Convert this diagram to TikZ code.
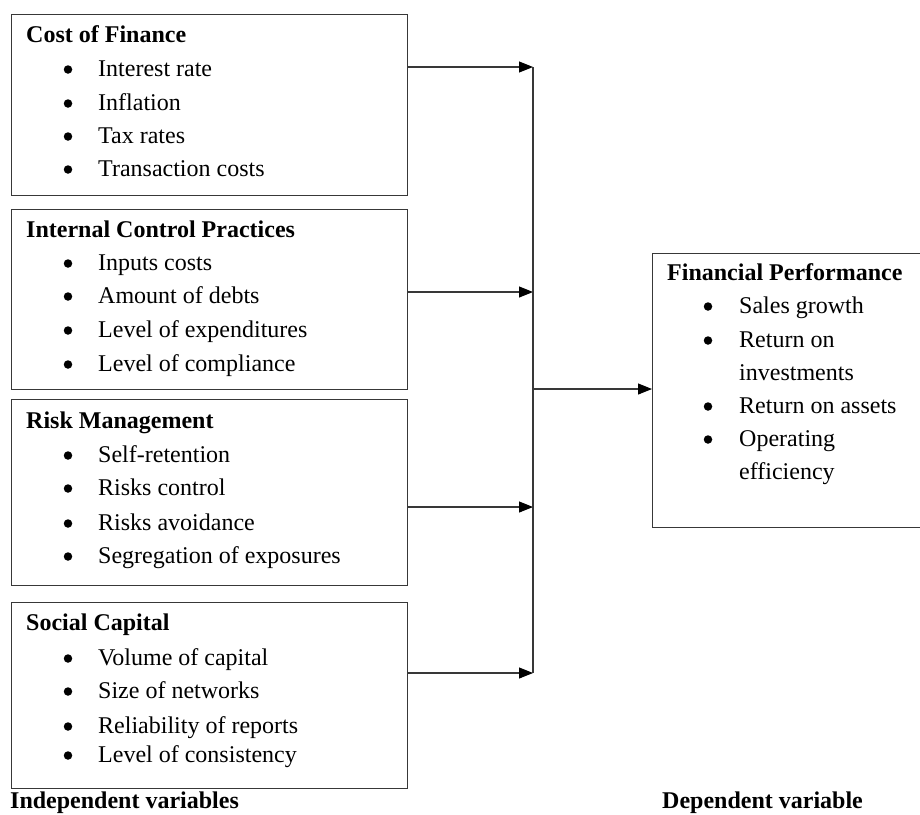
\documentclass[tikz,border=0pt]{standalone}
\usepackage{fontspec}
\setmainfont{Liberation Serif}
\usetikzlibrary{arrows.meta}

\begin{document}
\begin{tikzpicture}[x=1pt, y=-1pt,
  every node/.append style={font=\fontsize{24}{33}\selectfont},
  linecol/.style={draw=black!78, line width=1.1pt},
  box/.style={linecol, rectangle, inner sep=0pt, anchor=north west},
  title/.style={anchor=base west, inner sep=0pt, font=\fontsize{24}{33}\selectfont\bfseries},
  item/.style={anchor=base west, inner sep=0pt},
  bul/.style={circle, fill=black, inner sep=0pt, minimum size=8.5pt},
  link/.style={linecol, -{Triangle[length=14pt, width=11pt, color=black]}}
]
\clip (0,0) rectangle (920,814);

% independent variable boxes
\node[box, minimum width=396pt, minimum height=181pt] (cof) at (11,14) {};
\node[box, minimum width=396pt, minimum height=180pt] (icp) at (11,209) {};
\node[box, minimum width=396pt, minimum height=186pt] (rm)  at (11,399) {};
\node[box, minimum width=396pt, minimum height=186pt] (sc)  at (11,602) {};

% dependent variable box (runs past the right edge)
\node[box, minimum width=290pt, minimum height=274pt] (fp) at (652,253) {};

% box contents: title, then bullet and text of each item
\node[title] (cof-t) at (26,42) {Cost of Finance};
\foreach \y/\t [count=\i] in {76/Interest rate, 110/Inflation, 143/Tax rates, 176/Transaction costs} {
  \node[bul] (cof-b\i) at (68,\y-6.5) {};
  \node[item] (cof-\i) at (98,\y) {\t};
}

\node[title] (icp-t) at (26,237) {Internal Control Practices};
\foreach \y/\t [count=\i] in {270/Inputs costs, 303/Amount of debts, 337/Level of expenditures, 371/Level of compliance} {
  \node[bul] (icp-b\i) at (68,\y-6.5) {};
  \node[item] (icp-\i) at (98,\y) {\t};
}

\node[title] (rm-t) at (26,428) {Risk Management};
\foreach \y/\t [count=\i] in {462/Self-retention, 495/Risks control, 530/Risks avoidance, 563/Segregation of exposures} {
  \node[bul] (rm-b\i) at (68,\y-6.5) {};
  \node[item] (rm-\i) at (98,\y) {\t};
}

\node[title] (sc-t) at (26,630) {Social Capital};
\foreach \y/\t [count=\i] in {665/Volume of capital, 698/Size of networks, 733/Reliability of reports, 762/Level of consistency} {
  \node[bul] (sc-b\i) at (68,\y-6.5) {};
  \node[item] (sc-\i) at (98,\y) {\t};
}

\node[title] (fp-t) at (667,280) {Financial Performance};
\foreach \y/\t [count=\i] in {313/Sales growth, 347/Return on, 413/Return on assets, 446/Operating} {
  \node[bul] (fp-b\i) at (708,\y-6.5) {};
  \node[item] (fp-\i) at (739,\y) {\t};
}
\node[item] (fp-2b) at (739,380) {investments};
\node[item] (fp-4b) at (739,479) {efficiency};

% captions
\node[title] (indep) at (10,808) {Independent variables};
\node[title] (dep) at (662,808) {Dependent variable};

% connectors
\coordinate (j1) at (533,67);
\coordinate (j2) at (533,292);
\coordinate (j3) at (533,507);
\coordinate (j4) at (533,673);
\coordinate (jm) at (533,389);

\draw[link] (cof.east |- j1) -- (j1);
\draw[link] (icp.east |- j2) -- (j2);
\draw[link] (rm.east |- j3) -- (j3);
\draw[link] (sc.east |- j4) -- (j4);
\draw[linecol] (j1) -- (j4);
\draw[link] (jm) -- (fp.west |- jm);
\end{tikzpicture}
\end{document}
